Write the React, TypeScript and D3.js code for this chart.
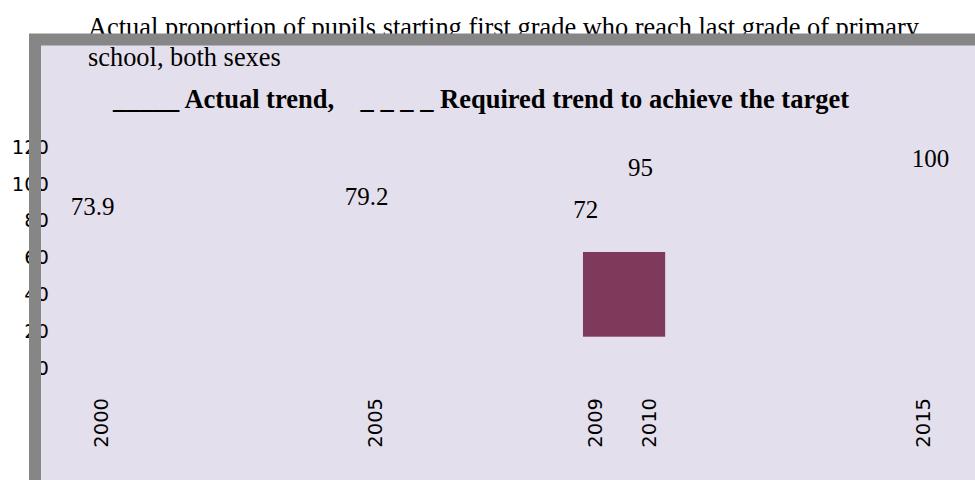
import React from "react";
import * as d3 from "d3";

const years = [2000, 2005, 2009, 2010, 2015];
const values = [73.9, 79.2, 72, 95, 100];
const yTicks = [0, 20, 40, 60, 80, 100, 120];
const titleLines = [
  "Actual proportion of pupils starting first grade who reach last grade of primary",
  "school, both sexes",
];
const legendText = "_____ Actual trend,    _ _ _ _ Required trend to achieve the target";
// the odd filled block sitting between 2009 and 2010
const blockYears = [2008.95, 2010.45];
const blockRange = [17, 63];

const W = 975;
const H = 480;

export default function App() {
  const x = d3.scaleLinear().domain([2000, 2015]).range([92.5, 914.5]);
  const y = d3.scaleLinear().domain([0, 120]).range([368, 147]);

  const serif = "'Liberation Serif', 'Times New Roman', serif";
  const sans = "'DejaVu Sans', sans-serif";

  return (
    <div style={{ position: "absolute", left: 0, top: 0 }}>
      <svg width={W} height={H} style={{ display: "block" }}>
        <rect x={35} y={39.5} width={W} height={H} fill="#e4dfec" />

        {titleLines.map((t, i) => (
          <text key={i} x={88} y={36 + i * 30} fontFamily={serif} fontSize={26.4} fill="#000">
            {t}
          </text>
        ))}

        <text x={113} y={108} fontFamily={serif} fontSize={26.5} fontWeight="bold" style={{ whiteSpace: "pre" }}>
          {legendText}
        </text>

        {yTicks.map((t) => (
          <text key={t} x={49} y={y(t)} dy="0.35em" textAnchor="end" fontFamily={sans} fontSize={19.5}>
            {t}
          </text>
        ))}

        {years.map((yr, i) => (
          <text
            key={yr}
            x={x(yr) + (i === years.length - 1 ? 16 : 0)}
            y={y(values[i]) - 17}
            textAnchor="middle"
            fontFamily={serif}
            fontSize={25}
          >
            {values[i]}
          </text>
        ))}

        <rect
          x={x(blockYears[0])}
          y={y(blockRange[1])}
          width={x(blockYears[1]) - x(blockYears[0])}
          height={y(blockRange[0]) - y(blockRange[1])}
          fill="#7e3a5a"
        />

        {years.map((yr) => (
          <text
            key={"x" + yr}
            transform={`translate(${x(yr) + 9},398) rotate(-90)`}
            dy="0.35em"
            textAnchor="end"
            fontFamily={sans}
            fontSize={19.5}
          >
            {yr}
          </text>
        ))}

        <rect x={35} y={39.5} width={W} height={H} fill="none" stroke="#868686" strokeWidth={12} />
      </svg>
    </div>
  );
}
